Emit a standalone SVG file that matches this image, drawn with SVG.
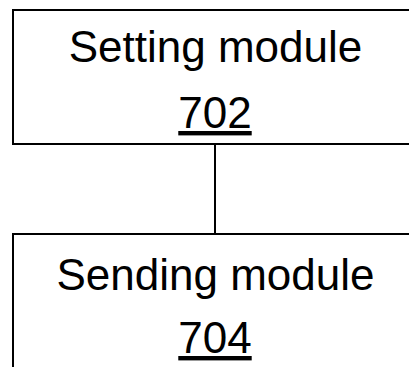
<svg xmlns="http://www.w3.org/2000/svg" width="409" height="367" viewBox="0 0 409 367">
<style>
.box{fill:#fff;stroke:#000;stroke-width:2}
.t{font-family:"Liberation Sans",Arial,sans-serif;font-size:44px;fill:#000;text-anchor:middle}
.u{text-decoration:underline}
.c{stroke:#000;stroke-width:2;fill:none}
</style>
<rect width="409" height="367" fill="#fff"/>
<g id="connectors">
<line class="c" x1="215" y1="144" x2="215" y2="234"/>
</g>
<g id="node702">
<rect class="box" x="13" y="10" width="410" height="134"/>
<text class="t" x="215.5" y="62">Setting module</text>
<text class="t u" x="215" y="128">702</text>
</g>
<g id="node704">
<rect class="box" x="13" y="234" width="410" height="150"/>
<text class="t" x="215.5" y="290">Sending module</text>
<text class="t u" x="215" y="353">704</text>
</g>
</svg>
